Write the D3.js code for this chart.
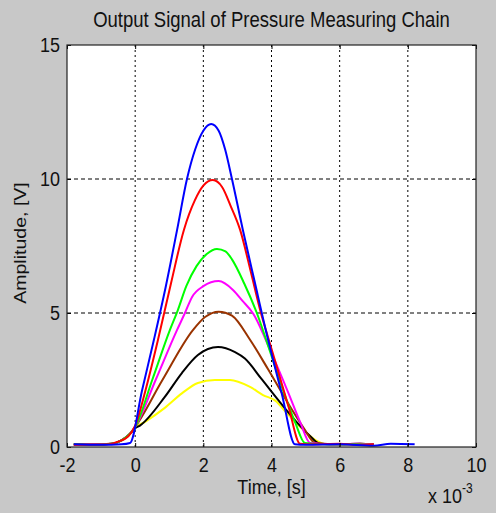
<!DOCTYPE html>
<html lang="en">
<head>
    <meta charset="UTF-8">
    <title>Output Signal of Pressure Measuring Chain</title>
    <style>
        body { margin: 0; background: #c8c8c8; }
        text { font-family: "Liberation Sans", Arial, sans-serif; fill: #111; }
        .tick line { stroke: #000; }
        .grid { stroke: #000; stroke-width: 1px; fill: none; }
        .signal { fill: none; stroke-width: 2px; stroke-linejoin: round; }
    </style>
    <script src="https://d3js.org/d3.v7.min.js"></script>
</head>
<body>
    <div id="chart"></div>
    <script>
        const width = 496;
        const height = 513;

        // time in ms (axis shows x 10^-3 s), amplitude in V
        const xTicks = [-2, 0, 2, 4, 6, 8, 10];
        const yTicks = [0, 5, 10, 15];

        const yellow = [[-1.8,0.08],[-1.2,0.1],[-0.7,0.12],[-0.4,0.25],[-0.15,0.5],[0,0.72],[0.3,0.95],
            [0.87,1.46],[1.37,2.0],[1.84,2.39],[2.34,2.5],[2.78,2.5],[3.37,2.24],[3.75,1.94],[4.16,1.68],
            [4.31,1.46],[4.8,0.8],[5.3,0.25],[5.6,0.1],[6.5,0.1],[7.0,0.08]];
        const black = [[-1.8,0.1],[-1.2,0.08],[-0.7,0.12],[-0.4,0.25],[-0.15,0.5],[0,0.7],[0.14,0.8],
            [0.87,1.87],[1.37,2.76],[1.84,3.43],[2.43,3.73],[2.93,3.54],[3.22,3.3],[3.7,2.55],[4.2,1.75],
            [4.69,1.0],[5.1,0.45],[5.42,0.12],[6.0,0.1],[6.6,0.12],[7.0,0.1]];
        const brown = [[-1.8,0.1],[-1.2,0.1],[-0.7,0.12],[-0.4,0.25],[-0.15,0.5],[0,0.75],[0.8,2.5],
            [1.7,4.37],[2.05,4.85],[2.45,5.05],[2.84,4.9],[3.37,4.0],[3.9,2.9],[4.5,1.6],[4.95,0.7],
            [5.28,0.15],[6.0,0.1],[6.6,0.12],[7.0,0.1]];
        const magenta = [[-1.8,0.08],[-1.2,0.1],[-0.7,0.12],[-0.4,0.25],[-0.15,0.5],[0,0.75],[0.6,2.5],
            [1.23,4.37],[1.46,5.0],[1.67,5.6],[2.0,6.0],[2.45,6.19],[2.87,5.86],[3.15,5.45],[3.45,5.0],
            [4.0,3.5],[4.5,2.0],[4.85,0.9],[5.13,0.15],[5.8,0.1],[6.5,0.12],[7.0,0.1]];
        const green = [[-1.8,0.1],[-1.2,0.08],[-0.7,0.12],[-0.4,0.25],[-0.15,0.5],[0,0.75],[0.5,2.5],
            [1.02,4.37],[1.25,5.1],[1.5,6.0],[1.8,6.75],[2.1,7.2],[2.4,7.39],[2.65,7.3],[2.84,7.0],
            [3.2,6.1],[3.57,5.0],[4.0,3.4],[4.4,1.9],[4.7,0.9],[4.98,0.15],[5.6,0.1],[6.5,0.1],[7.0,0.08]];
        const red = [[-1.8,0.08],[-0.8,0.1],[-0.5,0.2],[-0.2,0.4],[0,0.8],[0.3,2.1],[0.67,4.0],
            [1.05,6.1],[1.43,8.1],[1.75,9.2],[2.0,9.75],[2.28,9.96],[2.55,9.7],[2.8,9.0],[3.08,8.1],
            [3.4,6.5],[3.69,5.0],[3.92,4.0],[4.2,2.8],[4.5,1.5],[4.84,0.12],[5.2,0.1],[6.0,0.12],
            [6.5,0.08],[7.0,0.1]];
        const blue = [[-1.8,0.1],[-1.0,0.08],[-0.4,0.1],[-0.15,0.15],[0.2,2.1],[0.55,4.0],[0.9,6.0],
            [1.23,8.1],[1.52,10.0],[1.76,11.1],[2.0,11.8],[2.23,12.05],[2.45,11.8],[2.64,11.1],[2.84,10.0],
            [3.16,8.1],[3.5,6.2],[3.9,4.0],[4.3,2.0],[4.69,0.1],[5.0,0.08],[6.0,0.1],[7.0,0.05],
            [7.5,0.12],[8.2,0.1]];

        const series = [
            { data: yellow, color: "#ffff00" },
            { data: black, color: "#000000" },
            { data: brown, color: "#993300" },
            { data: magenta, color: "#ff00ff" },
            { data: green, color: "#00ff00" },
            { data: red, color: "#ff0000" },
            { data: blue, color: "#0000ff" }
        ];

        const plotLeft = 67, plotRight = 476, plotTop = 45, plotBottom = 447;
        const stretch = 1.15; // the original figure text is a bit taller than wide

        const svg = d3.select("#chart").append("svg")
            .attr("width", width)
            .attr("height", height);

        svg.append("rect")
            .attr("width", width)
            .attr("height", height)
            .attr("fill", "#c8c8c8");

        const x = d3.scaleLinear().domain([-2, 10]).range([plotLeft, plotRight]);
        const y = d3.scaleLinear().domain([0, 15]).range([plotBottom, plotTop]);

        svg.append("rect")
            .attr("x", plotLeft)
            .attr("y", plotTop)
            .attr("width", plotRight - plotLeft)
            .attr("height", plotBottom - plotTop)
            .attr("fill", "#fff");

        // dashed grid
        svg.append("g").selectAll("line")
            .data(xTicks.slice(1, -1))
            .join("line")
            .attr("class", "grid")
            .attr("x1", d => x(d)).attr("x2", d => x(d))
            .attr("y1", plotTop).attr("y2", plotBottom)
            .attr("stroke-dasharray", "2,3");

        svg.append("g").selectAll("line")
            .data(yTicks.slice(1, -1))
            .join("line")
            .attr("class", "grid")
            .attr("y1", d => y(d)).attr("y2", d => y(d))
            .attr("x1", plotLeft).attr("x2", plotRight)
            .attr("stroke-dasharray", "4,3");

        const line = d3.line()
            .x(d => x(d[0]))
            .y(d => y(d[1]))
            .curve(d3.curveMonotoneX);

        svg.append("g").selectAll("path")
            .data(series)
            .join("path")
            .attr("class", "signal")
            .attr("stroke", d => d.color)
            .attr("d", d => line(d.data));

        // axes with inward ticks
        const xAxis = svg.append("g")
            .attr("transform", `translate(0,${plotBottom})`)
            .call(d3.axisBottom(x).tickValues(xTicks).tickSize(-4).tickPadding(10).tickFormat(d => String(d)));
        const yAxis = svg.append("g")
            .attr("transform", `translate(${plotLeft},0)`)
            .call(d3.axisLeft(y).tickValues(yTicks).tickSize(-4).tickPadding(7).tickFormat(d => String(d)));
        svg.append("g")
            .attr("transform", `translate(0,${plotTop})`)
            .call(d3.axisTop(x).tickValues(xTicks).tickSize(-4).tickFormat(""));
        svg.append("g")
            .attr("transform", `translate(${plotRight},0)`)
            .call(d3.axisRight(y).tickValues(yTicks).tickSize(-4).tickFormat(""));

        svg.selectAll(".domain").remove();
        svg.selectAll(".tick text")
            .style("font-size", "18px")
            .style("font-family", "'Liberation Sans', Arial, sans-serif")
            .attr("fill", "#111");
        xAxis.selectAll(".tick text")
            .attr("y", 10 / stretch)
            .attr("transform", `scale(1,${stretch})`);
        yAxis.selectAll(".tick text")
            .attr("transform", `scale(1,${stretch})`);

        svg.append("rect")
            .attr("x", plotLeft)
            .attr("y", plotTop)
            .attr("width", plotRight - plotLeft)
            .attr("height", plotBottom - plotTop)
            .attr("fill", "none")
            .attr("stroke", "#222")
            .attr("stroke-width", 1.2);

        svg.append("text")
            .attr("transform", `translate(${(plotLeft + plotRight) / 2},27) scale(1,${stretch})`)
            .attr("text-anchor", "middle")
            .style("font-size", "18.5px")
            .text("Output Signal of Pressure Measuring Chain");

        svg.append("text")
            .attr("transform", `translate(${(plotLeft + plotRight) / 2},494) scale(1,${stretch})`)
            .attr("text-anchor", "middle")
            .style("font-size", "18px")
            .text("Time, [s]");

        svg.append("text")
            .attr("transform", `translate(26,243) rotate(-90) scale(${stretch},1)`)
            .attr("text-anchor", "middle")
            .style("font-size", "17px")
            .text("Amplitude, [V]");

        const mult = svg.append("text")
            .attr("transform", `translate(428,503) scale(1,${stretch})`)
            .style("font-size", "18px");
        mult.append("tspan").text("x 10");
        mult.append("tspan")
            .attr("dy", -9)
            .style("font-size", "12px")
            .text("-3");
    </script>
</body>
</html>
